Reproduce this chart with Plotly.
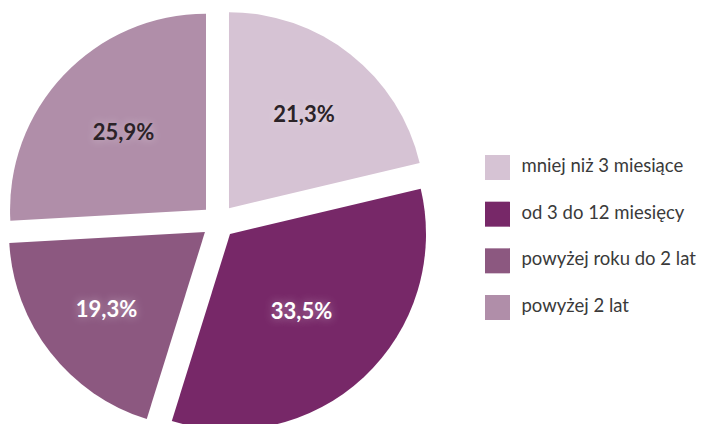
import plotly.graph_objects as go

# Duration categories and their shares (%)
categories = ["mniej niż 3 miesiące", "od 3 do 12 miesięcy", "powyżej roku do 2 lat", "powyżej 2 lat"]
shares = [21.3, 33.5, 19.3, 25.9]
colors = ["#D6C3D4", "#772868", "#8C5880", "#B08EA9"]
label_colors = ["#2B2328", "#FFFFFF", "#FFFFFF", "#2B2328"]

W, H = 717, 443
FONT = "Lato, 'Open Sans', sans-serif"

fig = go.Figure()

fig.add_trace(go.Pie(
    labels=categories,
    values=shares,
    sort=False,
    direction="clockwise",
    rotation=0,
    pull=[0.087] * len(shares),
    marker=dict(colors=colors, line=dict(width=0)),
    texttemplate="%{value:.1f}%",
    textposition="inside",
    insidetextorientation="horizontal",
    textfont=dict(family=FONT, size=22, color=label_colors, weight="bold",
                  shadow="0px 0px 10px rgba(255,255,255,0.45)"),
    hoverinfo="label+value",
    showlegend=False,
    domain=dict(x=[0.0075, 0.6017], y=[0, 1]),
))

# Legend: large square swatches plus category names
idx = list(range(len(categories)))
fig.add_trace(go.Scatter(
    x=[0] * len(categories),
    y=idx,
    mode="markers",
    marker=dict(symbol="square", size=25, color=colors, line=dict(width=0)),
    hoverinfo="skip",
    showlegend=False,
))
text_gap = 24  # horizontal distance (px) from swatch centre to label start
fig.add_trace(go.Scatter(
    x=[text_gap] * len(categories),
    y=idx,
    mode="text",
    text=categories,
    textposition="middle right",
    textfont=dict(family=FONT, size=18.5, color="#3A3A3A"),
    hoverinfo="skip",
    showlegend=False,
))

# Axis ranges place the legend rows (46.67 px apart) to the right of the pie
step = 46.67
y0_px = H - 167.5
fig.update_layout(
    width=W, height=H,
    margin=dict(l=0, r=0, t=0, b=0),
    paper_bgcolor="white",
    plot_bgcolor="rgba(0,0,0,0)",
    separators=", ",
    showlegend=False,
    xaxis=dict(domain=[0, 1], range=[-497.5, W - 497.5], visible=False, fixedrange=True),
    yaxis=dict(domain=[0, 1], range=[y0_px / step, -(H - y0_px) / step],
               visible=False, fixedrange=True),
)

fig.write_html("out.html", post_script="document.body.style.margin='0';document.body.style.overflow='hidden';")
